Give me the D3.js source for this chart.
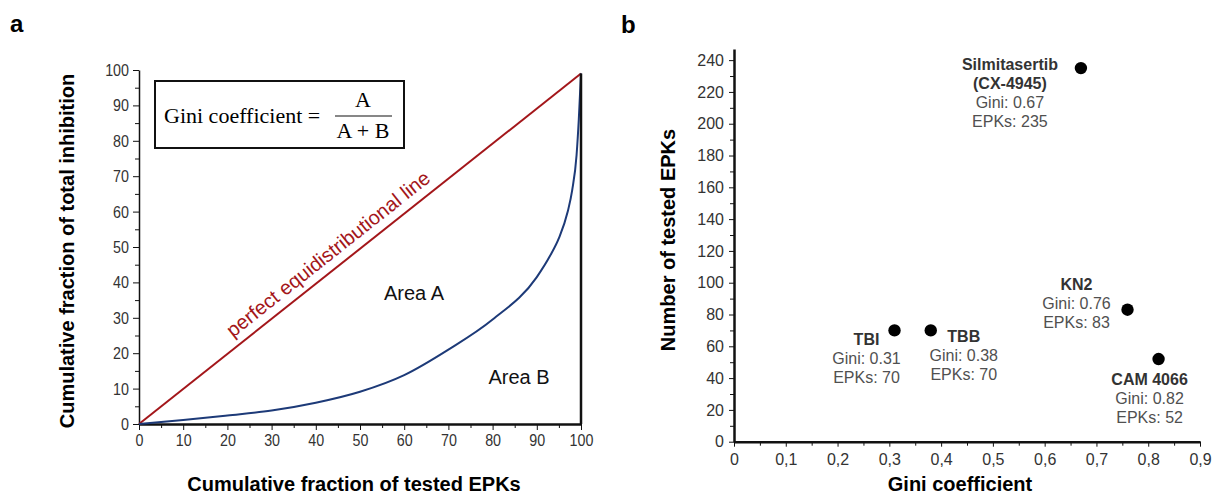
<!DOCTYPE html>
<html>
<head>
<meta charset="utf-8">
<script src="https://cdn.jsdelivr.net/npm/d3@7"></script>
<style>
  body { margin: 0; background: #fff; }
  svg { display: block; font-family: "Liberation Sans", Arial, sans-serif; }
  .axis path, .axis line { stroke: #111; }
  .axis text { fill: #333; }
</style>
</head>
<body>
<svg id="chart" width="1213" height="497"></svg>
<script>
// panel a: Lorenz curve (cumulative % of EPKs vs cumulative % inhibition)
var lorenzX = [0, 10, 20, 30, 40, 50, 60, 70, 80, 90, 93, 95, 97, 98, 99, 99.5, 100];
var lorenzY = [0, 1.1, 2.4, 3.8, 6, 9.1, 13.8, 21, 29.5, 41.5, 47.5, 52.5, 60, 66, 76, 86, 99];
var equalX = [0, 100];
var equalY = [0, 99];
var aTicks = [0, 10, 20, 30, 40, 50, 60, 70, 80, 90, 100];

// panel b: compounds
var names = ["Silmitasertib", "TBI", "TBB", "KN2", "CAM 4066"];
var subNames = ["(CX-4945)", "", "", "", ""];
var gini = [0.67, 0.31, 0.38, 0.76, 0.82];
var epks = [235, 70, 70, 83, 52];
var giniTicks = [0, 0.1, 0.2, 0.3, 0.4, 0.5, 0.6, 0.7, 0.8, 0.9];
var epkTicks = [0, 20, 40, 60, 80, 100, 120, 140, 160, 180, 200, 220, 240];

// label placement relative to each dot (px)
var labelPos = [
    {dx: -71, dy: 2},
    {dx: -28, dy: 15},
    {dx: 33, dy: 12},
    {dx: -51, dy: -20},
    {dx: -9, dy: 26}
];

var svg = d3.select("#chart");

// squeeze tick labels to look like a narrow font
function narrow(sel) {
    sel.each(function() {
        var w = this.getComputedTextLength();
        d3.select(this).attr("textLength", w * 0.84).attr("lengthAdjust", "spacingAndGlyphs");
    });
}

// ---------- panel a ----------
var xa = d3.scaleLinear().domain([0, 100]).range([139, 581]);
var ya = d3.scaleLinear().domain([0, 100]).range([424, 70]);

var ga = svg.append("g");

svg.append("text").attr("x", 10).attr("y", 32)
    .style("font-size", "24px").style("font-weight", "bold").text("a");

// minor ticks
ga.append("g").attr("class", "axis")
    .attr("transform", "translate(" + xa(0) + ",0)")
    .call(d3.axisLeft(ya).tickValues(d3.range(5, 100, 10)).tickSize(4).tickFormat(""))
    .select(".domain").remove();
ga.append("g").attr("class", "axis")
    .attr("transform", "translate(0," + ya(0) + ")")
    .call(d3.axisBottom(xa).tickValues(d3.range(5, 100, 10)).tickSize(4).tickFormat(""))
    .select(".domain").remove();

var yAxA = ga.append("g").attr("class", "axis")
    .attr("transform", "translate(" + xa(0) + ",0)")
    .call(d3.axisLeft(ya).tickValues(aTicks).tickSize(6).tickPadding(4).tickSizeOuter(0));
yAxA.selectAll("text").style("font-size", "17px").call(narrow);
yAxA.select(".domain").attr("stroke-width", 1.5).attr("stroke", "#444");

var xAxA = ga.append("g").attr("class", "axis")
    .attr("transform", "translate(0," + ya(0) + ")")
    .call(d3.axisBottom(xa).tickValues(aTicks).tickSize(6).tickPadding(4).tickSizeOuter(0));
xAxA.selectAll("text").style("font-size", "17px").call(narrow);
xAxA.select(".domain").attr("stroke-width", 2.5);

// equality line
ga.append("path")
    .datum(d3.zip(equalX, equalY))
    .attr("d", d3.line().x(function(d) { return xa(d[0]); }).y(function(d) { return ya(d[1]); }))
    .attr("fill", "none").attr("stroke", "#a3161a").attr("stroke-width", 2);

// lorenz curve
ga.append("path")
    .datum(d3.zip(lorenzX, lorenzY))
    .attr("d", d3.line().curve(d3.curveMonotoneX)
        .x(function(d) { return xa(d[0]); }).y(function(d) { return ya(d[1]); }))
    .attr("fill", "none").attr("stroke", "#1d3a78").attr("stroke-width", 2);

// right closing line
ga.append("line")
    .attr("x1", xa(100)).attr("x2", xa(100))
    .attr("y1", ya(0)).attr("y2", ya(99))
    .attr("stroke", "#111").attr("stroke-width", 2.5);

// label along the equality line
var ang = Math.atan2(ya(0) - ya(99), xa(100) - xa(0)) * 180 / Math.PI;
var mx = xa(45), my = ya(45 * 0.99);
var rad = ang * Math.PI / 180;
ga.append("text")
    .attr("transform", "translate(" + (mx - 9 * Math.sin(rad)) + "," + (my - 9 * Math.cos(rad)) + ") rotate(" + (-ang) + ")")
    .attr("text-anchor", "middle")
    .style("font-size", "20px").style("fill", "#a3161a")
    .text("perfect equidistributional line");

ga.append("text").attr("x", 414).attr("y", 300).attr("text-anchor", "middle")
    .style("font-size", "20px").style("fill", "#111").text("Area A");
ga.append("text").attr("x", 519).attr("y", 384).attr("text-anchor", "middle")
    .style("font-size", "20px").style("fill", "#111").text("Area B");

// formula box
ga.append("rect").attr("x", 155).attr("y", 81).attr("width", 249).attr("height", 67)
    .attr("fill", "#fff").attr("stroke", "#111").attr("stroke-width", 2);
var serif = "'Liberation Serif', 'DejaVu Serif', serif";
ga.append("text").attr("x", 164).attr("y", 123).style("font-family", serif).style("font-size", "22px")
    .text("Gini coefficient =");
ga.append("text").attr("x", 363).attr("y", 107).attr("text-anchor", "middle")
    .style("font-family", serif).style("font-size", "22px").text("A");
ga.append("line").attr("x1", 335).attr("x2", 392).attr("y1", 116).attr("y2", 116)
    .attr("stroke", "#111").attr("stroke-width", 1.2);
ga.append("text").attr("x", 363).attr("y", 138).attr("text-anchor", "middle")
    .style("font-family", serif).style("font-size", "22px").text("A + B");

// axis titles
ga.append("text")
    .attr("transform", "translate(74," + ((ya(0) + ya(100)) / 2 + 4) + ") rotate(-90)")
    .attr("text-anchor", "middle").style("font-size", "20px").style("font-weight", "bold")
    .text("Cumulative fraction of total inhibition");
ga.append("text").attr("x", 354).attr("y", 491).attr("text-anchor", "middle")
    .style("font-size", "20px").style("font-weight", "bold")
    .text("Cumulative fraction of tested EPKs");

// ---------- panel b ----------
var xb = d3.scaleLinear().domain([0, 0.9]).range([734, 1200]);
var yb = d3.scaleLinear().domain([0, 247]).range([441.7, 49]);
var gb = svg.append("g");

svg.append("text").attr("x", 621).attr("y", 33)
    .style("font-size", "24px").style("font-weight", "bold").text("b");

gb.append("g").attr("class", "axis")
    .attr("transform", "translate(" + xb(0) + ",0)")
    .call(d3.axisLeft(yb).tickValues(d3.range(10, 241, 20)).tickSize(4).tickFormat(""))
    .select(".domain").remove();
gb.append("g").attr("class", "axis")
    .attr("transform", "translate(0," + yb(0) + ")")
    .call(d3.axisBottom(xb).tickValues(d3.range(0.05, 0.9, 0.1)).tickSize(4).tickFormat(""))
    .select(".domain").remove();

var yAxB = gb.append("g").attr("class", "axis")
    .attr("transform", "translate(" + xb(0) + ",0)")
    .call(d3.axisLeft(yb).tickValues(epkTicks).tickSize(5).tickPadding(5).tickSizeOuter(0));
yAxB.selectAll("text").style("font-size", "16px");
yAxB.select(".domain").attr("stroke-width", 2.5);

var commaFmt = function(d) { return d === 0 ? "0" : d3.format(".1f")(d).replace(".", ","); };
var xAxB = gb.append("g").attr("class", "axis")
    .attr("transform", "translate(0," + yb(0) + ")")
    .call(d3.axisBottom(xb).tickValues(giniTicks).tickFormat(commaFmt).tickSize(5).tickPadding(7).tickSizeOuter(0));
xAxB.selectAll("text").style("font-size", "16px");
xAxB.select(".domain").attr("stroke-width", 2.5);

gb.selectAll(".dot").data(names).enter().append("circle")
    .attr("class", "dot")
    .attr("cx", function(d, i) { return xb(gini[i]); })
    .attr("cy", function(d, i) { return yb(epks[i]); })
    .attr("r", 6.2).attr("fill", "#000");

names.forEach(function(n, i) {
    var lx = xb(gini[i]) + labelPos[i].dx;
    var ly = yb(epks[i]) + labelPos[i].dy;
    var lines = [[n, true]];
    if (subNames[i]) lines.push([subNames[i], true]);
    lines.push(["Gini: " + gini[i].toFixed(2), false]);
    lines.push(["EPKs: " + epks[i], false]);
    lines.forEach(function(l, k) {
        gb.append("text").attr("x", lx).attr("y", ly + k * 19)
            .attr("text-anchor", "middle")
            .style("font-size", "16px")
            .style("font-weight", l[1] ? "bold" : "normal")
            .style("fill", l[1] ? "#333" : "#505050")
            .text(l[0]);
    });
});

gb.append("text")
    .attr("transform", "translate(675," + 240 + ") rotate(-90)")
    .attr("text-anchor", "middle").style("font-size", "20px").style("font-weight", "bold")
    .text("Number of tested EPKs");
gb.append("text").attr("x", 960).attr("y", 491).attr("text-anchor", "middle")
    .style("font-size", "20px").style("font-weight", "bold")
    .text("Gini coefficient");
</script>
</body>
</html>
